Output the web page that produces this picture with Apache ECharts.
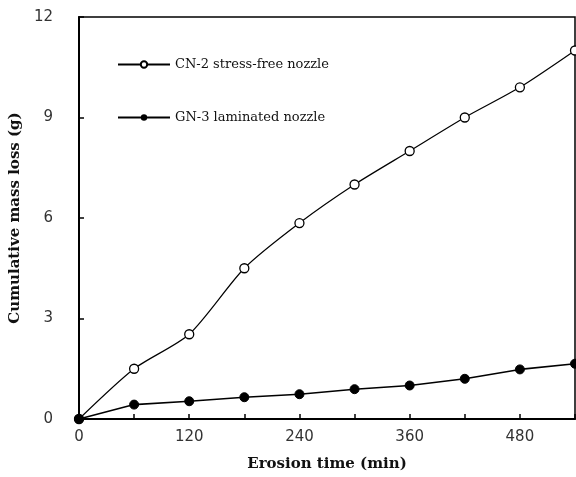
<!DOCTYPE html>
<html>
<head>
<meta charset="utf-8">
<script src="https://cdn.jsdelivr.net/npm/echarts@6/dist/echarts.min.js"></script>
<style>
  html, body { margin: 0; padding: 0; background: #fff; }
  #chart { width: 576px; height: 477px; }
</style>
</head>
<body>
<div id="chart"></div>
<script>
// erosion time (min)
const times = [0, 60, 120, 180, 240, 300, 360, 420, 480, 540];
// cumulative mass loss (g)
const cn2 = [0, 1.5, 2.53, 4.5, 5.85, 7.0, 8.0, 9.0, 9.9, 11.0];
const gn3 = [0, 0.43, 0.53, 0.65, 0.74, 0.89, 1.0, 1.2, 1.48, 1.65];
const seriesNames = ['CN-2 stress-free nozzle', 'GN-3 laminated nozzle'];

const serif = '"DejaVu Serif", "Liberation Serif", serif';
const sans = '"DejaVu Sans", sans-serif';
const chart = echarts.init(document.getElementById('chart'));

const pairs = arr => times.map((t, i) => [t, arr[i]]);

chart.setOption({
  animation: false,
  grid: {
    left: 79, right: 1, top: 17, bottom: 58,
    outerBoundsMode: 'none',
    show: true, borderColor: '#000', borderWidth: 1.5
  },
  legend: {
    left: 112, top: 53,
    orient: 'vertical',
    itemWidth: 52, itemHeight: 8, itemGap: 40,
    textStyle: { fontFamily: serif, fontSize: 13, color: '#111' },
    data: seriesNames
  },
  xAxis: {
    type: 'value', min: 0, max: 540, interval: 60,
    name: 'Erosion time (min)',
    nameLocation: 'middle', nameGap: 38,
    nameTextStyle: { fontFamily: serif, fontWeight: 'bold', fontSize: 15, color: '#111' },
    axisLine: { lineStyle: { color: '#000', width: 2 } },
    axisTick: { inside: true, length: 5, lineStyle: { color: '#000', width: 1.5 } },
    axisLabel: {
      margin: 11, fontFamily: sans, fontSize: 15, color: '#333',
      formatter: v => (v % 120 === 0 && v < 540 ? String(v) : '')
    },
    splitLine: { show: false }
  },
  yAxis: {
    type: 'value', min: 0, max: 12, interval: 3,
    name: 'Cumulative mass loss (g)',
    nameLocation: 'middle', nameGap: 52,
    nameTextStyle: { fontFamily: serif, fontWeight: 'bold', fontSize: 15, color: '#111' },
    axisLine: { lineStyle: { color: '#000', width: 2 } },
    axisTick: { inside: true, length: 5, lineStyle: { color: '#000', width: 1.5 } },
    axisLabel: { margin: 26, fontFamily: sans, fontSize: 15, color: '#333' },
    splitLine: { show: false }
  },
  series: [
    {
      name: seriesNames[0], type: 'line', data: pairs(cn2),
      smooth: 0.25,
      symbol: 'circle', symbolSize: 9, showAllSymbol: true,
      lineStyle: { color: '#000', width: 1.2 },
      itemStyle: { color: '#fff', borderColor: '#000', borderWidth: 1.3 },
      clip: false
    },
    {
      name: seriesNames[1], type: 'line', data: pairs(gn3),
      symbol: 'circle', symbolSize: 9, showAllSymbol: true,
      lineStyle: { color: '#000', width: 1.6 },
      itemStyle: { color: '#000', borderColor: '#000' },
      clip: false
    }
  ]
});
</script>
</body>
</html>
